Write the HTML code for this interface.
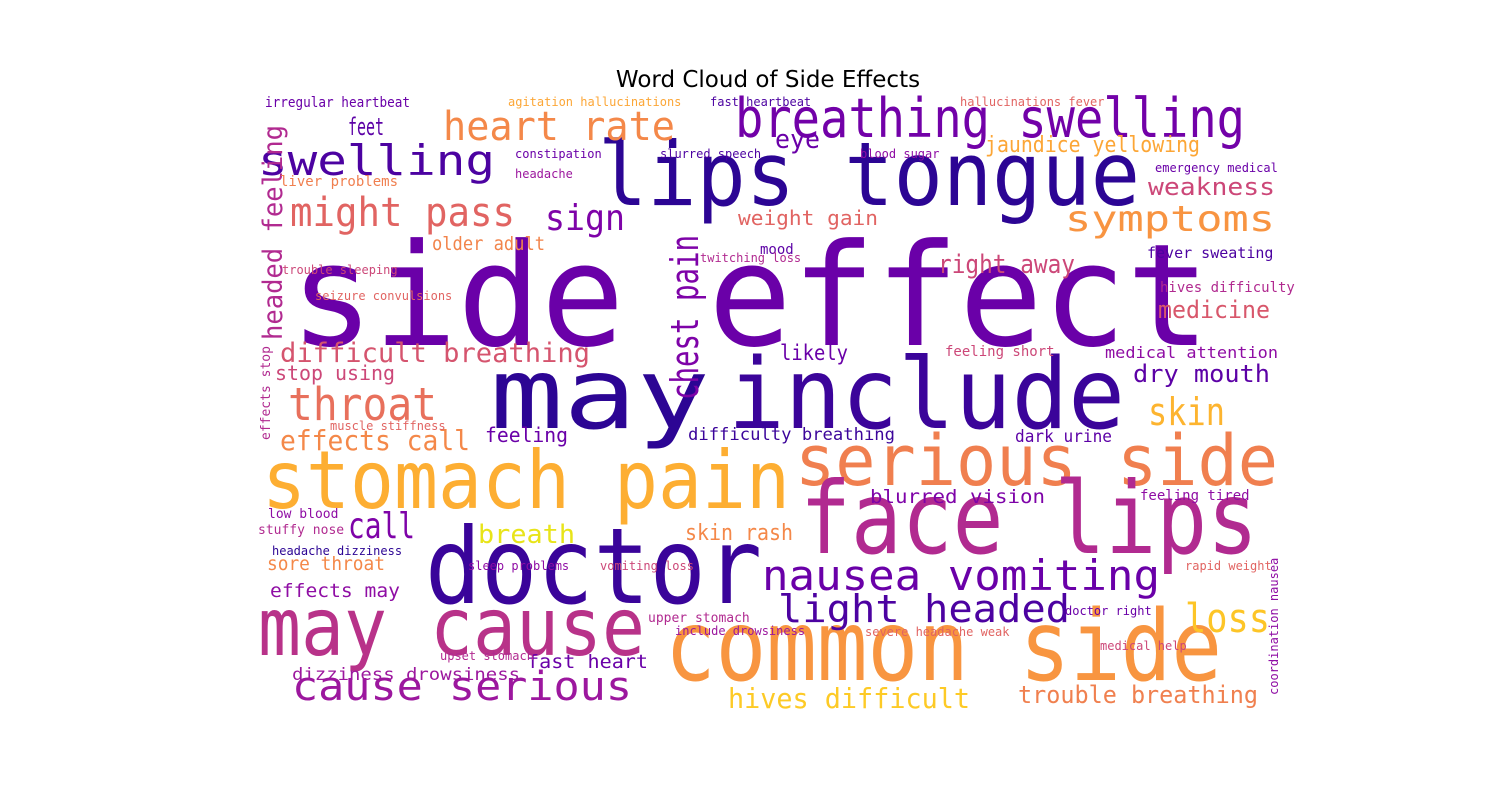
<!DOCTYPE html>
<html><head><meta charset="utf-8"><style>
html,body{margin:0;padding:0;background:#fff;}
svg{display:block;}
text{font-family:"DejaVu Sans Mono","Liberation Mono",monospace;}
#chart-title{font-family:"DejaVu Sans","Liberation Sans",sans-serif;}
</style></head><body>
<svg width="1500" height="800" viewBox="0 0 1500 800">
<text id="chart-title" x="768" y="87" font-size="23" text-anchor="middle" fill="#000">Word Cloud of Side Effects</text>
<g>
<text x="290" y="345" font-size="142" fill="#6a00a8" textLength="920" lengthAdjust="spacingAndGlyphs">side effect</text>
<text x="598" y="205" font-size="88" fill="#2c0594" textLength="542" lengthAdjust="spacingAndGlyphs">lips tongue</text>
<text x="735" y="137" font-size="54" fill="#7201a8" textLength="510" lengthAdjust="spacingAndGlyphs">breathing swelling</text>
<text x="443" y="140" font-size="40" fill="#f48849" textLength="232" lengthAdjust="spacingAndGlyphs">heart rate</text>
<text x="258" y="175" font-size="42" fill="#4c02a1" textLength="237" lengthAdjust="spacingAndGlyphs">swelling</text>
<text x="290" y="226" font-size="40" fill="#e16462" textLength="225" lengthAdjust="spacingAndGlyphs">might pass</text>
<text x="348" y="135" font-size="24" fill="#5c01a6" textLength="36" lengthAdjust="spacingAndGlyphs">feet</text>
<text x="545" y="230" font-size="36" fill="#7e03a8" textLength="80" lengthAdjust="spacingAndGlyphs">sign</text>
<text x="775" y="148" font-size="26" fill="#6a00a8" textLength="45" lengthAdjust="spacingAndGlyphs">eye</text>
<text x="1065" y="231" font-size="36" fill="#f89441" textLength="210" lengthAdjust="spacingAndGlyphs">symptoms</text>
<text x="1148" y="195" font-size="24" fill="#cc4778" textLength="127" lengthAdjust="spacingAndGlyphs">weakness</text>
<text x="985" y="152" font-size="22" fill="#fca636" textLength="215" lengthAdjust="spacingAndGlyphs">jaundice yellowing</text>
<text x="490" y="428" font-size="98" fill="#2c0594" textLength="220" lengthAdjust="spacingAndGlyphs">may</text>
<text x="728" y="428" font-size="98" fill="#3b049a" textLength="397" lengthAdjust="spacingAndGlyphs">include</text>
<text x="0" y="0" font-size="38" fill="#7e03a8" textLength="165" lengthAdjust="spacingAndGlyphs" transform="translate(698,400) rotate(-90)">chest pain</text>
<text x="0" y="0" font-size="27" fill="#b12a90" textLength="215" lengthAdjust="spacingAndGlyphs" transform="translate(282,340) rotate(-90)">headed feeling</text>
<text x="288" y="420" font-size="45" fill="#e8705c" textLength="149" lengthAdjust="spacingAndGlyphs">throat</text>
<text x="280" y="362" font-size="27" fill="#d5546e" textLength="310" lengthAdjust="spacingAndGlyphs">difficult breathing</text>
<text x="275" y="380" font-size="20" fill="#cc4778" textLength="120" lengthAdjust="spacingAndGlyphs">stop using</text>
<text x="280" y="450" font-size="28" fill="#f48849" textLength="190" lengthAdjust="spacingAndGlyphs">effects call</text>
<text x="262" y="508" font-size="80" fill="#fdae32" textLength="528" lengthAdjust="spacingAndGlyphs">stomach pain</text>
<text x="795" y="485" font-size="70" fill="#f07f4f" textLength="483" lengthAdjust="spacingAndGlyphs">serious side</text>
<text x="800" y="553" font-size="100" fill="#b12a90" textLength="458" lengthAdjust="spacingAndGlyphs">face lips</text>
<text x="425" y="603" font-size="105" fill="#3a049a" textLength="337" lengthAdjust="spacingAndGlyphs">doctor</text>
<text x="258" y="655" font-size="80" fill="#b83289" textLength="387" lengthAdjust="spacingAndGlyphs">may cause</text>
<text x="665" y="680" font-size="98" fill="#f89540" textLength="557" lengthAdjust="spacingAndGlyphs">common side</text>
<text x="762" y="590" font-size="42" fill="#6a00a8" textLength="398" lengthAdjust="spacingAndGlyphs">nausea vomiting</text>
<text x="778" y="622" font-size="38" fill="#4c02a1" textLength="292" lengthAdjust="spacingAndGlyphs">light headed</text>
<text x="292" y="700" font-size="40" fill="#9c179e" textLength="340" lengthAdjust="spacingAndGlyphs">cause serious</text>
<text x="728" y="708" font-size="28" fill="#fdca26" textLength="242" lengthAdjust="spacingAndGlyphs">hives difficult</text>
<text x="1018" y="703" font-size="24" fill="#f0804f" textLength="240" lengthAdjust="spacingAndGlyphs">trouble breathing</text>
<text x="1185" y="632" font-size="40" fill="#fdc527" textLength="85" lengthAdjust="spacingAndGlyphs">loss</text>
<text x="1148" y="425" font-size="38" fill="#fdb42f" textLength="77" lengthAdjust="spacingAndGlyphs">skin</text>
<text x="1158" y="318" font-size="24" fill="#d8576b" textLength="112" lengthAdjust="spacingAndGlyphs">medicine</text>
<text x="938" y="273" font-size="26" fill="#cc4778" textLength="137" lengthAdjust="spacingAndGlyphs">right away</text>
<text x="738" y="225" font-size="20" fill="#e16462" textLength="140" lengthAdjust="spacingAndGlyphs">weight gain</text>
<text x="432" y="250" font-size="19" fill="#f2844b" textLength="113" lengthAdjust="spacingAndGlyphs">older adult</text>
<text x="348" y="538" font-size="36" fill="#7e03a8" textLength="67" lengthAdjust="spacingAndGlyphs">call</text>
<text x="478" y="543" font-size="26" fill="#e8e419" textLength="97" lengthAdjust="spacingAndGlyphs">breath</text>
<text x="685" y="540" font-size="22" fill="#f48849" textLength="108" lengthAdjust="spacingAndGlyphs">skin rash</text>
<text x="870" y="503" font-size="19" fill="#7e03a8" textLength="175" lengthAdjust="spacingAndGlyphs">blurred vision</text>
<text x="1133" y="382" font-size="24" fill="#5c01a6" textLength="137" lengthAdjust="spacingAndGlyphs">dry mouth</text>
<text x="1105" y="358" font-size="16" fill="#8f0da4" textLength="173" lengthAdjust="spacingAndGlyphs">medical attention</text>
<text x="485" y="442" font-size="20" fill="#6a00a8" textLength="83" lengthAdjust="spacingAndGlyphs">feeling</text>
<text x="688" y="440" font-size="17" fill="#3b049a" textLength="207" lengthAdjust="spacingAndGlyphs">difficulty breathing</text>
<text x="1015" y="442" font-size="17" fill="#5c01a6" textLength="97" lengthAdjust="spacingAndGlyphs">dark urine</text>
<text x="780" y="360" font-size="21" fill="#6a00a8" textLength="68" lengthAdjust="spacingAndGlyphs">likely</text>
<text x="267" y="570" font-size="19" fill="#f48849" textLength="118" lengthAdjust="spacingAndGlyphs">sore throat</text>
<text x="270" y="597" font-size="19" fill="#8f0da4" textLength="130" lengthAdjust="spacingAndGlyphs">effects may</text>
<text x="527" y="668" font-size="19" fill="#6a00a8" textLength="121" lengthAdjust="spacingAndGlyphs">fast heart</text>
<text x="292" y="680" font-size="17" fill="#9c179e" textLength="228" lengthAdjust="spacingAndGlyphs">dizziness drowsiness</text>
<text x="265" y="107" font-size="14" fill="#6a00a8" textLength="145" lengthAdjust="spacingAndGlyphs">irregular heartbeat</text>
<text x="945" y="356" font-size="14" fill="#cc4778">feeling short</text>
<text x="1147" y="258" font-size="15" fill="#4c02a1">fever sweating</text>
<text x="1160" y="292" font-size="14" fill="#b12a90">hives difficulty</text>
<text x="1140" y="500" font-size="14" fill="#8f0da4">feeling tired</text>
<text x="268" y="518" font-size="13" fill="#8f0da4">low blood</text>
<text x="258" y="534" font-size="13" fill="#b12a90">stuffy nose</text>
<text x="760" y="254" font-size="14" fill="#5c01a6">mood</text>
<text x="280" y="186" font-size="14" fill="#f07f4f">liver problems</text>
<text x="282" y="274" font-size="12" fill="#cc4778">trouble sleeping</text>
<text x="315" y="300" font-size="12" fill="#e16462">seizure convulsions</text>
<text x="330" y="430" font-size="12" fill="#e16462">muscle stiffness</text>
<text x="515" y="178" font-size="12" fill="#9c179e">headache</text>
<text x="515" y="158" font-size="12" fill="#6a00a8">constipation</text>
<text x="710" y="106" font-size="12" fill="#4c02a1">fast heartbeat</text>
<text x="508" y="106" font-size="12" fill="#fca636">agitation hallucinations</text>
<text x="660" y="158" font-size="12" fill="#4c02a1">slurred speech</text>
<text x="860" y="158" font-size="12" fill="#8f0da4">blood sugar</text>
<text x="960" y="106" font-size="12" fill="#e16462">hallucinations fever</text>
<text x="1155" y="172" font-size="12" fill="#6a00a8">emergency medical</text>
<text x="468" y="570" font-size="12" fill="#8f0da4">sleep problems</text>
<text x="272" y="555" font-size="12" fill="#2c0594">headache dizziness</text>
<text x="648" y="622" font-size="13" fill="#b12a90">upper stomach</text>
<text x="675" y="635" font-size="12" fill="#9c179e">include drowsiness</text>
<text x="440" y="660" font-size="12" fill="#b12a90">upset stomach</text>
<text x="865" y="636" font-size="12" fill="#e16462">severe headache weak</text>
<text x="1100" y="650" font-size="12" fill="#cc4778">medical help</text>
<text x="1185" y="570" font-size="12" fill="#e16462">rapid weight</text>
<text x="1065" y="615" font-size="12" fill="#6a00a8">doctor right</text>
<text x="600" y="570" font-size="12" fill="#cc4778">vomiting loss</text>
<text x="700" y="262" font-size="12" fill="#b12a90">twitching loss</text>
<text x="0" y="0" font-size="12" fill="#8f0da4" transform="translate(1278,695) rotate(-90)">coordination nausea</text>
<text x="0" y="0" font-size="13" fill="#b12a90" transform="translate(270,440) rotate(-90)">effects stop</text>
</g>
</svg>
</body></html>
